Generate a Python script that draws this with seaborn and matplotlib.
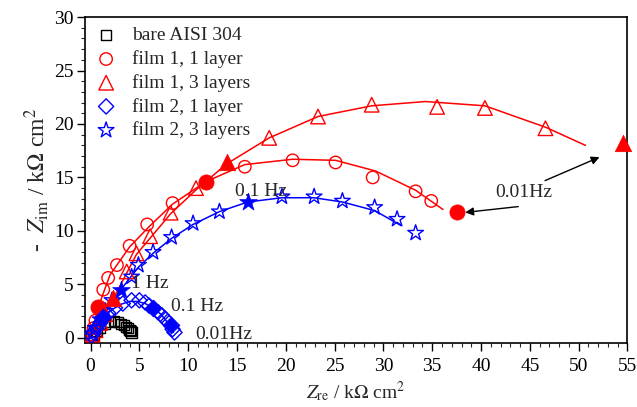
import numpy as np
import matplotlib
matplotlib.use('Agg')
import matplotlib.pyplot as plt
from matplotlib.ticker import MultipleLocator
import seaborn as sb

# Nyquist data, Z_re / -Z_im in kOhm cm2
bare_x = [0.1, 0.3, 0.6, 1.0, 1.5, 2.0, 2.4, 2.8, 3.1, 3.4, 3.6, 3.8, 4.0, 4.1, 4.2]
bare_y = [0.1, 0.3, 0.6, 0.9, 1.3, 1.5, 1.6, 1.5, 1.3, 1.2, 1.0, 0.9, 0.7, 0.6, 0.5]

f11_x = [0.15, 0.3, 0.5, 1.3, 1.8, 2.7, 4.0, 5.8, 8.4, 15.8, 20.7, 25.1, 28.9, 33.3, 34.9]
f11_y = [0.3, 0.9, 1.6, 4.5, 5.6, 6.8, 8.6, 10.6, 12.6, 16.0, 16.6, 16.4, 15.0, 13.7, 12.8]
f11_fx = [0.8, 11.8, 37.5]
f11_fy = [2.9, 14.6, 11.8]
f11_lx = [0, 0.8, 2.0, 4.0, 6.0, 8.4, 11.8, 15.8, 20.7, 25.1, 29.2, 33.3, 36.1]
f11_ly = [0, 2.9, 5.9, 8.5, 10.4, 12.5, 14.6, 16.2, 16.7, 16.6, 15.6, 13.8, 12.0]

f13_x = [0.2, 0.5, 1.0, 1.5, 3.7, 4.7, 6.1, 8.2, 10.8, 18.3, 23.3, 28.8, 35.5, 40.4, 46.6]
f13_y = [0.3, 0.7, 1.4, 2.2, 6.2, 7.9, 9.5, 11.7, 14.0, 18.7, 20.7, 21.8, 21.6, 21.5, 19.6]
f13_fx = [2.3, 14.0, 54.5]
f13_fy = [3.7, 16.4, 18.2]
f13_lx = [0, 2.3, 4.7, 8.2, 11.0, 14.0, 18.3, 23.3, 28.8, 34.3, 40.4, 46.6, 50.7]
f13_ly = [0, 3.6, 7.8, 11.6, 14.0, 16.3, 18.7, 20.7, 21.7, 22.1, 21.7, 19.7, 18.0]

f21_x = [0.1, 0.3, 0.6, 1.0, 1.8, 2.5, 3.3, 4.2, 5.0, 5.6, 6.0, 6.9, 7.3, 7.6, 7.9, 8.4, 8.6]
f21_y = [0.2, 0.5, 0.9, 1.4, 2.3, 2.8, 3.2, 3.5, 3.5, 3.3, 3.0, 2.4, 2.1, 1.8, 1.5, 0.8, 0.5]
f21_fx = [1.3, 6.4, 8.2]
f21_fy = [1.9, 2.8, 1.2]
f21_lx = [0, 1.0, 2.0, 3.0, 4.0, 4.8, 5.6, 6.4, 7.2, 8.0, 8.5]
f21_ly = [0, 1.5, 2.5, 3.1, 3.4, 3.4, 3.2, 2.8, 2.2, 1.3, 0.5]

f23_x = [0.2, 0.5, 1.0, 1.5, 2.2, 4.2, 4.9, 6.4, 8.3, 10.5, 13.2, 19.6, 22.9, 25.8, 29.1, 31.4, 33.3]
f23_y = [0.4, 0.9, 1.7, 2.5, 3.5, 5.7, 6.8, 8.0, 9.4, 10.7, 11.8, 13.2, 13.2, 12.8, 12.2, 11.1, 9.8]
f23_fx = [3.1, 16.1]
f23_fy = [4.5, 12.7]
f23_lx = [0, 1.5, 3.1, 4.9, 6.4, 8.3, 10.5, 13.2, 16.1, 19.6, 22.9, 25.8, 29.1, 31.8]
f23_ly = [0, 2.4, 4.5, 6.6, 7.9, 9.3, 10.6, 11.8, 12.7, 13.1, 13.1, 12.7, 11.9, 10.5]

RED = '#ff0000'
BLUE = '#0000ff'

sb.set_style('ticks')
plt.rcParams['font.family'] = ['Liberation Serif', 'DejaVu Serif']
plt.rcParams['mathtext.fontset'] = 'stix'

fig = plt.figure(figsize=(6.37, 4.07), dpi=100)
ax = fig.add_axes([0.133, 0.157, 0.852, 0.801])

# fit lines
for lx, ly, c in [(f11_lx, f11_ly, RED), (f13_lx, f13_ly, RED),
                  (f21_lx, f21_ly, BLUE), (f23_lx, f23_ly, BLUE)]:
    sb.lineplot(x=lx, y=ly, color=c, lw=1.1, sort=False, ax=ax)

# open markers (experimental points)
series = [
    (bare_x, bare_y, 's', 'black', 55, 'bare AISI 304'),
    (f11_x, f11_y, 'o', RED, 80, 'film 1, 1 layer'),
    (f13_x, f13_y, '^', RED, 110, 'film 1, 3 layers'),
    (f21_x, f21_y, 'D', BLUE, 60, 'film 2, 1 layer'),
    (f23_x, f23_y, '*', BLUE, 140, 'film 2, 3 layers'),
]
for sx, sy, m, c, s, lab in series:
    sb.scatterplot(x=sx, y=sy, marker=m, s=s, fc='none', ec=c,
                   linewidth=1.0, label=lab, ax=ax, zorder=3)

# filled markers at 1 Hz, 0.1 Hz, 0.01 Hz
for fx, fy, m, c, s in [(f11_fx, f11_fy, 'o', RED, 120), (f13_fx, f13_fy, '^', RED, 140),
                        (f21_fx, f21_fy, 'D', BLUE, 75), (f23_fx, f23_fy, '*', BLUE, 180)]:
    sb.scatterplot(x=fx, y=fy, marker=m, s=s, color=c, ec=c, linewidth=0.5,
                   ax=ax, zorder=4, legend=False, clip_on=False)

fs = 14
ax.text(4.1, 5.1, '1 Hz', fontsize=fs, va='center')
ax.text(8.2, 2.9, '0.1 Hz', fontsize=fs, va='center')
ax.text(10.7, 0.35, '0.01Hz', fontsize=fs, va='center')
ax.text(14.8, 13.7, '0.1 Hz', fontsize=fs, va='center')
ax.text(41.5, 13.6, '0.01Hz', fontsize=fs, va='center')
ax.annotate('', xy=(38.1, 11.7), xytext=(44.1, 12.3),
            arrowprops=dict(arrowstyle='-|>', color='black', lw=1, mutation_scale=12))
ax.annotate('', xy=(52.4, 17.0), xytext=(46.3, 14.6),
            arrowprops=dict(arrowstyle='-|>', color='black', lw=1, mutation_scale=12))

ax.set_xlim(-0.6, 55)
ax.set_ylim(-0.5, 30)
ax.xaxis.set_major_locator(MultipleLocator(5))
ax.xaxis.set_minor_locator(MultipleLocator(1))
ax.yaxis.set_major_locator(MultipleLocator(5))
ax.yaxis.set_minor_locator(MultipleLocator(1))
ax.tick_params(which='major', direction='out', length=6, width=1, labelsize=fs,
               top=False, right=False, colors='black', pad=2)
ax.tick_params(which='minor', direction='out', length=3, width=0.8,
               top=False, right=False)
ax.tick_params(axis='x', which='major', pad=5)
for sp in ax.spines.values():
    sp.set_visible(True)
    sp.set_color('black')
    sp.set_linewidth(1.2)

ax.set_xlabel(r'$Z_{\mathrm{re}}$ / k$\Omega$ cm$^2$', fontsize=14, labelpad=3)
ax.set_ylabel(r'-  $Z_{\mathrm{im}}$ / k$\Omega$ cm$^2$', fontsize=17, labelpad=2)

ax.legend(loc='upper left', frameon=False, fontsize=fs, handletextpad=0.75,
          labelspacing=0.3, borderaxespad=0.2, borderpad=0.3, handlelength=1.2)

fig.savefig('out.png', dpi=100)
